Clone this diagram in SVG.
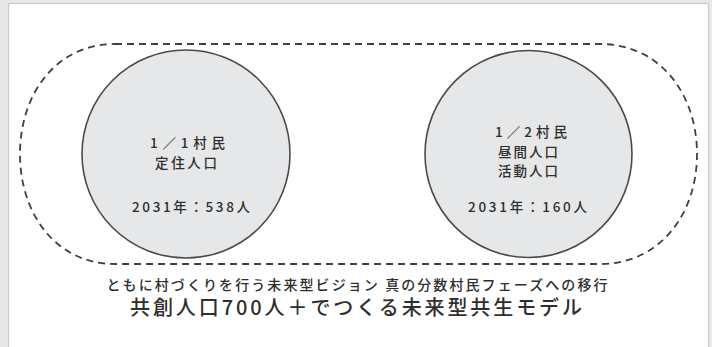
<svg xmlns="http://www.w3.org/2000/svg" width="712" height="347" viewBox="0 0 712 347">
<style>
  .bg { fill: #e8e8e8; }
  .panel { fill: #ffffff; stroke: #c9c9c9; stroke-width: 1.2; }
  .dash { fill: none; stroke: #3f3f3f; stroke-width: 1.8; stroke-dasharray: 7 5; }
  .circ { fill: #e6e7e8; stroke: #4a4a4a; stroke-width: 1.6; }
  text { font-family: "Noto Sans CJK JP", "Noto Sans", sans-serif; fill: #2e2e2e; text-anchor: middle; font-weight: 500; }
  .lbl { font-size: 13.5px; }
  .cap1 { font-size: 14px; }
  .cap2 { font-size: 20px; }
</style>
<rect class="bg" x="0" y="0" width="712" height="347"/>
<rect class="panel" x="8.5" y="3.5" width="700" height="360"/>
<g id="boundary">
  <path class="dash" d="M 115 44 H 600 C 660 44 697 94 697 154 C 697 214 660 264 600 264 H 115 C 56 264 20 214 20 154 C 20 94 56 44 115 44 Z"/>
</g>
<g id="node-settled">
  <circle class="circ" cx="186" cy="154" r="104"/>
  <text class="lbl" x="187.5" y="148" textLength="75" lengthAdjust="spacing">1／1村民</text>
  <text class="lbl" x="186" y="168" textLength="62" lengthAdjust="spacing">定住人口</text>
  <text class="lbl" x="191" y="212" textLength="118" lengthAdjust="spacing">2031年：538人</text>
</g>
<g id="node-daytime">
  <circle class="circ" cx="528.5" cy="154" r="103.5"/>
  <text class="lbl" x="531" y="137" textLength="72" lengthAdjust="spacing">1／2村民</text>
  <text class="lbl" x="528" y="156.5" textLength="60" lengthAdjust="spacing">昼間人口</text>
  <text class="lbl" x="528" y="176" textLength="60" lengthAdjust="spacing">活動人口</text>
  <text class="lbl" x="527.5" y="212" textLength="119" lengthAdjust="spacing">2031年：160人</text>
</g>
<g id="caption">
  <text class="cap1" x="357" y="290" textLength="501" lengthAdjust="spacing">ともに村づくりを行う未来型ビジョン 真の分数村民フェーズへの移行</text>
  <text class="cap2" x="356" y="315" textLength="452" lengthAdjust="spacing">共創人口700人＋でつくる未来型共生モデル</text>
</g>
<g id="connectors"></g>
</svg>
